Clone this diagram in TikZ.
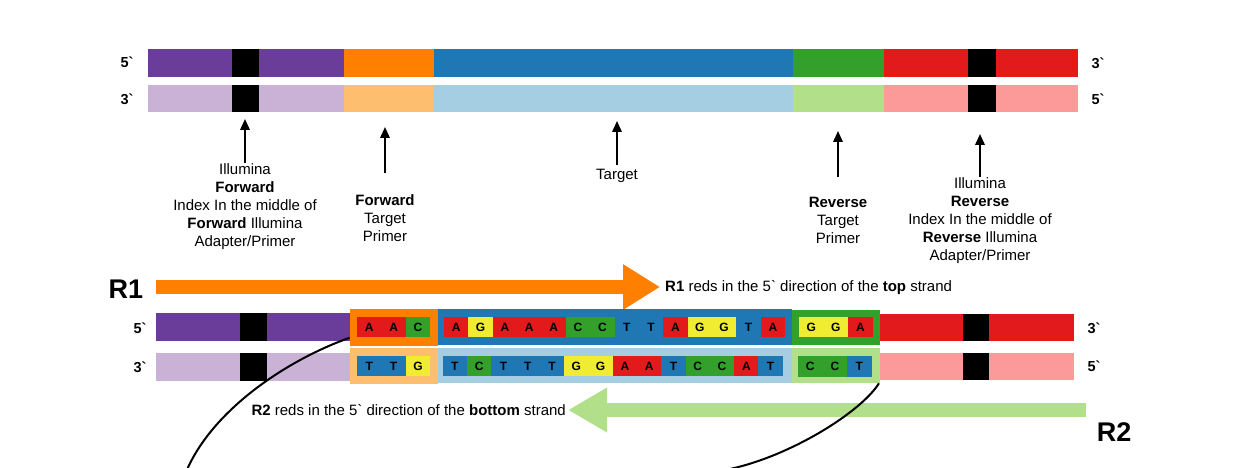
\documentclass[tikz,border=0pt]{standalone}
\usepackage{fontspec}
\newfontfamily\lab{Liberation Sans}
\usetikzlibrary{arrows.meta}
\definecolor{cPur}{HTML}{6A3D9A}
\definecolor{cPurL}{HTML}{CAB2D6}
\definecolor{cOr}{HTML}{FF7F00}
\definecolor{cOrL}{HTML}{FDBF6F}
\definecolor{cBl}{HTML}{1F78B4}
\definecolor{cBlL}{HTML}{A6CEE3}
\definecolor{cGr}{HTML}{33A02C}
\definecolor{cGrL}{HTML}{B2DF8A}
\definecolor{cRd}{HTML}{E31A1C}
\definecolor{cRdL}{HTML}{FB9A99}
\definecolor{cYe}{HTML}{F0EC32}
\colorlet{bA}{cRd}
\colorlet{bG}{cYe}
\colorlet{bC}{cGr}
\colorlet{bT}{cBl}
\tikzset{
  lbl/.style={font=\lab\fontsize{15}{18}\selectfont, align=center, inner sep=0pt},
  strl/.style={font=\lab\bfseries\fontsize{14.5}{16}\selectfont, inner sep=0pt},
  big/.style={font=\lab\bfseries\fontsize{27}{30}\selectfont, inner sep=0pt},
  uparr/.style={-{Triangle[length=11pt,width=9.5pt]}, line width=2pt},
  basecell/.style={minimum height=20.6pt, inner sep=0pt, outer sep=0pt, font=\lab\bfseries\fontsize{12}{12}\selectfont},
  curve/.style={line width=2pt, black},
}
\begin{document}
\begin{tikzpicture}[x=1pt,y=-1pt]
\useasboundingbox (0,0) rectangle (1250,468);
% ---------- top double strand ----------
\fill[cPur] (148,49) rectangle (343.5,77);
\fill[black] (232,49) rectangle (259,77);
\fill[cOr] (343.5,49) rectangle (433.5,77);
\fill[cBl] (433.5,49) rectangle (793,77);
\fill[cGr] (793,49) rectangle (884,77);
\fill[cRd] (884,49) rectangle (1078,77);
\fill[black] (968,49) rectangle (996,77);
\fill[cPurL] (148,85) rectangle (343.5,112);
\fill[black] (232,85) rectangle (259,112);
\fill[cOrL] (343.5,85) rectangle (433.5,112);
\fill[cBlL] (433.5,85) rectangle (793,112);
\fill[cGrL] (793,85) rectangle (884,112);
\fill[cRdL] (884,85) rectangle (1078,112);
\fill[black] (968,85) rectangle (996,112);
\node[strl] (t5l) at (127,62) {5`};
\node[strl] (t3l) at (127,99) {3`};
\node[strl] (t3r) at (1098,63) {3`};
\node[strl] (t5r) at (1098,99) {5`};
% ---------- labels and arrows ----------
\node[lbl] (L1) at (245,207) {Illumina\\\textbf{Forward}\\Index In the middle of\\\textbf{Forward} Illumina\\Adapter/Primer};
\node[lbl] (L2) at (385,218) {\textbf{Forward}\\Target\\Primer};
\node[lbl] (L3) at (617,176) {Target};
\node[lbl] (L4) at (838,220.5) {\textbf{Reverse}\\Target\\Primer};
\node[lbl] (L5) at (980,220.5) {Illumina\\\textbf{Reverse}\\Index In the middle of\\\textbf{Reverse} Illumina\\Adapter/Primer};
\draw[uparr, shorten <=1pt] (L1.north) -- (L1.north |- 0,119);
\draw[uparr, shorten <=21pt] (L2.north) -- (L2.north |- 0,127);
\draw[uparr, shorten <=4pt] (L3.north) -- (L3.north |- 0,121);
\draw[uparr, shorten <=20pt] (L4.north) -- (L4.north |- 0,131);
\draw[uparr, shorten <=0pt] (L5.north) -- (L5.north |- 0,134);
% ---------- R1 ----------
\node[big] (R1) at (126,289) {R1};
\coordinate (r1s) at (156,287);
\coordinate (r1e) at (660,287);
\draw[cOr, line width=13.5pt, -{Triangle[length=37pt,width=43pt]}] (r1s) -- (r1e);
\node[lbl, anchor=west] (R1t) at (665,288) {\textbf{R1} reds in the 5` direction of the \textbf{top} strand};
% ---------- lower double strand ----------
\fill[cPur] (156,313) rectangle (350,341);
\fill[black] (240,313) rectangle (267,341);
\fill[cRd] (880,314) rectangle (1074,341);
\fill[black] (963,314) rectangle (989,341);
\fill[cPurL] (156,353) rectangle (350,380.5);
\fill[black] (240,353) rectangle (267,380.5);
\fill[cRdL] (880,352.5) rectangle (1074,379.5);
\fill[black] (963,352.5) rectangle (989,379.5);
\node[fill=cOr, anchor=north west, minimum width=88pt, minimum height=36.5pt, inner sep=0pt, outer sep=0pt] (fwT) at (349.5,309.3) {};
\node[fill=cBl, anchor=north west, minimum width=354pt, minimum height=35.8pt, inner sep=0pt, outer sep=0pt] (tgT) at (437.5,309.3) {};
\node[fill=cGr, anchor=north west, minimum width=88.3pt, minimum height=35.5pt, inner sep=0pt, outer sep=0pt] (rvT) at (791.7,309.5) {};
\node[fill=cOrL, anchor=north west, minimum width=88pt, minimum height=35.7pt, inner sep=0pt, outer sep=0pt] (fwB) at (349.5,348.3) {};
\node[fill=cBlL, anchor=north west, minimum width=354pt, minimum height=35pt, inner sep=0pt, outer sep=0pt] (tgB) at (437.5,348.3) {};
\node[fill=cGrL, anchor=north west, minimum width=88.3pt, minimum height=35pt, inner sep=0pt, outer sep=0pt] (rvB) at (791.7,348.3) {};
% cells
\foreach \b [count=\i from 0] in {A,A,C}
  \node[basecell, fill=b\b, minimum width=24.4pt] (fa\i) at (369.2+24.4*\i,327) {\b};
\foreach \b [count=\i from 0] in {A,G,A,A,A,C,C,T,T,A,G,G,T,A}
  \node[basecell, fill=b\b, minimum width=24.36pt] (ta\i) at (456.18+24.36*\i,327) {\b};
\foreach \b [count=\i from 0] in {G,G,A}
  \node[basecell, fill=b\b, minimum width=24.6pt] (ra\i) at (811.3+24.6*\i,327) {\b};
\foreach \b [count=\i from 0] in {T,T,G}
  \node[basecell, fill=b\b, minimum width=24.4pt, minimum height=20.3pt] (fb\i) at (369.2+24.4*\i,366) {\b};
\foreach \b [count=\i from 0] in {T,C,T,T,T,G,G,A,A,T,C,C,A,T}
  \node[basecell, fill=b\b, minimum width=24.29pt, minimum height=20.3pt] (tb\i) at (454.85+24.29*\i,366) {\b};
\foreach \b [count=\i from 0] in {C,C,T}
  \node[basecell, fill=b\b, minimum width=24.56pt, minimum height=21pt] (rb\i) at (810.28+24.56*\i,366) {\b};
\node[strl] (b5l) at (140,328) {5`};
\node[strl] (b3l) at (140,367) {3`};
\node[strl] (b3r) at (1094,328) {3`};
\node[strl] (b5r) at (1094,366) {5`};
% ---------- R2 ----------
\node[big] (R2) at (1114,432) {R2};
\coordinate (r2s) at (1086,410);
\coordinate (r2e) at (568,410);
\draw[cGrL, line width=13.5pt, -{Triangle[length=39pt,width=42pt]}] (r2s) -- (r2e);
\node[lbl, anchor=east] (R2t) at (566,410) {\textbf{R2} reds in the 5` direction of the \textbf{bottom} strand};
% ---------- curves ----------
\coordinate (c1e) at (186,472);
\coordinate (c2e) at (730,469);
\draw[curve] ([yshift=8pt]fwT.south west) .. controls (287,360) and (212,410) .. (c1e);
\draw[curve] ([xshift=-1pt]rvB.south east) .. controls (860,413) and (790,456) .. (c2e);
\end{tikzpicture}
\end{document}
